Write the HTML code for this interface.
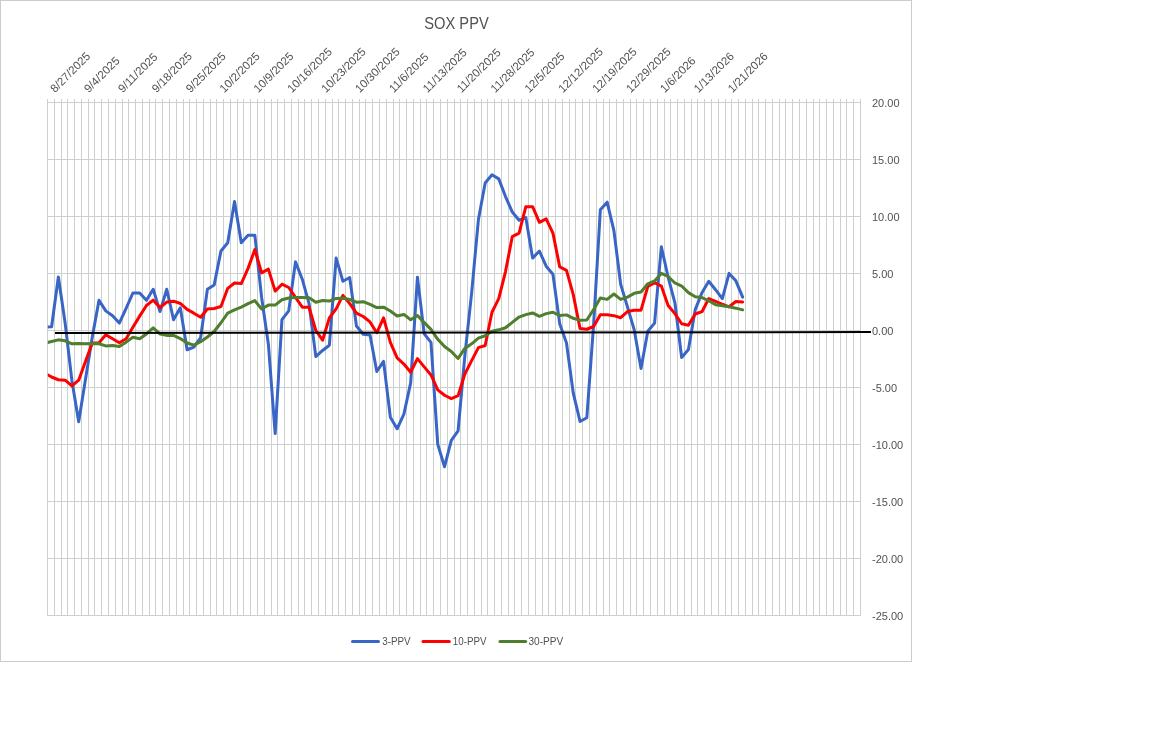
<!DOCTYPE html><html><head><meta charset="utf-8"><title>SOX PPV</title><style>
html,body{margin:0;padding:0;background:#fff;width:1152px;height:737px;overflow:hidden}
svg{display:block;will-change:transform}
text{font-family:"Liberation Sans",Arial,sans-serif;fill:#515151}
</style></head><body>
<svg width="1152" height="737" viewBox="0 0 1152 737">
<rect x="0" y="0" width="1152" height="737" fill="#fff"/>
<rect x="0.5" y="0.5" width="911" height="661" fill="none" stroke="#C8CEC8" stroke-width="1"/>
<text x="456.5" y="28.8" font-size="17" text-anchor="middle" textLength="64.5" lengthAdjust="spacingAndGlyphs">SOX PPV</text>
<path d="M47.5 99V615.5M54.5 99V615.5M61.5 99V615.5M67.5 99V615.5M74.5 99V615.5M81.5 99V615.5M88.5 99V615.5M94.5 99V615.5M101.5 99V615.5M108.5 99V615.5M115.5 99V615.5M122.5 99V615.5M128.5 99V615.5M135.5 99V615.5M142.5 99V615.5M149.5 99V615.5M155.5 99V615.5M162.5 99V615.5M169.5 99V615.5M176.5 99V615.5M183.5 99V615.5M189.5 99V615.5M196.5 99V615.5M203.5 99V615.5M210.5 99V615.5M216.5 99V615.5M223.5 99V615.5M230.5 99V615.5M237.5 99V615.5M243.5 99V615.5M250.5 99V615.5M257.5 99V615.5M264.5 99V615.5M271.5 99V615.5M277.5 99V615.5M284.5 99V615.5M291.5 99V615.5M298.5 99V615.5M304.5 99V615.5M311.5 99V615.5M318.5 99V615.5M325.5 99V615.5M332.5 99V615.5M338.5 99V615.5M345.5 99V615.5M352.5 99V615.5M359.5 99V615.5M365.5 99V615.5M372.5 99V615.5M379.5 99V615.5M386.5 99V615.5M393.5 99V615.5M399.5 99V615.5M406.5 99V615.5M413.5 99V615.5M420.5 99V615.5M426.5 99V615.5M433.5 99V615.5M440.5 99V615.5M447.5 99V615.5M454.5 99V615.5M460.5 99V615.5M467.5 99V615.5M474.5 99V615.5M481.5 99V615.5M487.5 99V615.5M494.5 99V615.5M501.5 99V615.5M508.5 99V615.5M514.5 99V615.5M521.5 99V615.5M528.5 99V615.5M535.5 99V615.5M542.5 99V615.5M548.5 99V615.5M555.5 99V615.5M562.5 99V615.5M569.5 99V615.5M575.5 99V615.5M582.5 99V615.5M589.5 99V615.5M596.5 99V615.5M603.5 99V615.5M609.5 99V615.5M616.5 99V615.5M623.5 99V615.5M630.5 99V615.5M636.5 99V615.5M643.5 99V615.5M650.5 99V615.5M657.5 99V615.5M664.5 99V615.5M670.5 99V615.5M677.5 99V615.5M684.5 99V615.5M691.5 99V615.5M697.5 99V615.5M704.5 99V615.5M711.5 99V615.5M718.5 99V615.5M725.5 99V615.5M731.5 99V615.5M738.5 99V615.5M745.5 99V615.5M752.5 99V615.5M758.5 99V615.5M765.5 99V615.5M772.5 99V615.5M779.5 99V615.5M785.5 99V615.5M792.5 99V615.5M799.5 99V615.5M806.5 99V615.5M813.5 99V615.5M819.5 99V615.5M826.5 99V615.5M833.5 99V615.5M840.5 99V615.5M846.5 99V615.5M853.5 99V615.5M860.5 99V615.5M47.5 102.5H860.5M47.5 159.5H860.5M47.5 216.5H860.5M47.5 273.5H860.5M47.5 330.5H860.5M47.5 387.5H860.5M47.5 444.5H860.5M47.5 501.5H860.5M47.5 558.5H860.5M47.5 615.5H860.5" stroke="#CDD1CD" stroke-width="1" fill="none"/>
<text x="872" y="106.5" font-size="11">20.00</text>
<text x="872" y="163.5" font-size="11">15.00</text>
<text x="872" y="220.5" font-size="11">10.00</text>
<text x="872" y="277.5" font-size="11">5.00</text>
<text x="872" y="334.5" font-size="11">0.00</text>
<text x="872" y="391.5" font-size="11">-5.00</text>
<text x="872" y="448.5" font-size="11">-10.00</text>
<text x="872" y="505.5" font-size="11">-15.00</text>
<text x="872" y="562.5" font-size="11">-20.00</text>
<text x="872" y="619.5" font-size="11">-25.00</text>
<text transform="translate(54.89 93.20) rotate(-45)" font-size="11.5">8/27/2025</text>
<text transform="translate(88.76 93.20) rotate(-45)" font-size="11.5">9/4/2025</text>
<text transform="translate(122.64 93.20) rotate(-45)" font-size="11.5">9/11/2025</text>
<text transform="translate(156.51 93.20) rotate(-45)" font-size="11.5">9/18/2025</text>
<text transform="translate(190.39 93.20) rotate(-45)" font-size="11.5">9/25/2025</text>
<text transform="translate(224.26 93.20) rotate(-45)" font-size="11.5">10/2/2025</text>
<text transform="translate(258.14 93.20) rotate(-45)" font-size="11.5">10/9/2025</text>
<text transform="translate(292.01 93.20) rotate(-45)" font-size="11.5">10/16/2025</text>
<text transform="translate(325.89 93.20) rotate(-45)" font-size="11.5">10/23/2025</text>
<text transform="translate(359.76 93.20) rotate(-45)" font-size="11.5">10/30/2025</text>
<text transform="translate(393.64 93.20) rotate(-45)" font-size="11.5">11/6/2025</text>
<text transform="translate(427.51 93.20) rotate(-45)" font-size="11.5">11/13/2025</text>
<text transform="translate(461.39 93.20) rotate(-45)" font-size="11.5">11/20/2025</text>
<text transform="translate(495.26 93.20) rotate(-45)" font-size="11.5">11/28/2025</text>
<text transform="translate(529.14 93.20) rotate(-45)" font-size="11.5">12/5/2025</text>
<text transform="translate(563.01 93.20) rotate(-45)" font-size="11.5">12/12/2025</text>
<text transform="translate(596.89 93.20) rotate(-45)" font-size="11.5">12/19/2025</text>
<text transform="translate(630.76 93.20) rotate(-45)" font-size="11.5">12/29/2025</text>
<text transform="translate(664.64 93.20) rotate(-45)" font-size="11.5">1/6/2026</text>
<text transform="translate(698.51 93.20) rotate(-45)" font-size="11.5">1/13/2026</text>
<text transform="translate(732.39 93.20) rotate(-45)" font-size="11.5">1/21/2026</text>
<defs><clipPath id="pc"><rect x="47.8" y="90" width="820" height="530"/></clipPath></defs>
<g clip-path="url(#pc)">
<polyline points="44.81,327.08 51.59,326.74 58.36,277.03 65.14,322.98 71.91,380.66 78.69,421.70 85.46,379.52 92.24,337.34 99.01,300.18 105.79,310.89 112.56,315.68 119.34,323.09 126.11,308.27 132.89,292.99 139.66,292.99 146.44,300.29 153.21,289.23 159.99,311.58 166.76,289.23 173.54,319.78 180.31,307.70 187.09,349.77 193.86,347.14 200.64,337.57 207.41,289.23 214.19,284.90 220.96,250.93 227.74,242.72 234.51,201.45 241.29,242.72 248.06,235.31 254.84,235.31 261.61,297.44 268.39,344.18 275.16,433.56 281.94,319.67 288.71,310.89 295.49,261.87 302.26,279.20 309.04,303.71 315.81,356.61 322.59,350.45 329.36,345.21 336.14,258.11 342.91,281.25 349.69,277.49 356.46,325.94 363.24,334.26 370.01,334.95 376.79,371.54 383.56,361.39 390.34,417.14 397.11,428.77 403.89,414.06 410.66,382.94 417.44,277.15 424.21,333.92 430.99,342.36 437.76,444.39 444.54,466.73 451.31,440.28 458.09,430.82 464.86,355.58 471.64,292.88 478.41,219.58 485.19,182.98 491.96,174.78 498.74,178.88 505.51,196.55 512.29,212.05 519.06,220.26 525.84,217.64 532.61,258.11 539.39,251.04 546.16,266.20 552.94,274.30 559.71,323.66 566.49,342.93 573.26,393.09 580.04,421.47 586.81,417.71 593.59,324.80 600.36,209.66 607.14,202.14 613.91,230.64 620.69,284.33 627.46,306.90 634.24,329.93 641.01,368.46 647.79,331.30 654.56,323.09 661.34,246.82 668.11,277.03 674.89,302.80 681.66,357.52 688.44,349.54 695.21,309.64 701.99,292.65 708.76,281.25 715.54,289.69 722.31,298.58 729.09,273.39 735.86,280.80 742.64,297.10" fill="none" stroke="#3865C6" stroke-width="3" stroke-linejoin="round" stroke-linecap="round"/>
<polyline points="44.81,373.14 51.59,377.01 58.36,379.75 65.14,380.20 71.91,385.90 78.69,380.20 85.46,361.51 92.24,343.04 99.01,342.81 105.79,334.72 112.56,338.82 119.34,342.81 126.11,338.82 132.89,327.19 139.66,316.14 146.44,305.53 153.21,300.18 159.99,307.59 166.76,302.11 173.54,301.20 180.31,303.48 187.09,309.41 193.86,313.17 200.64,317.28 207.41,309.07 214.19,308.50 220.96,306.45 227.74,288.32 234.51,282.96 241.29,283.53 248.06,268.37 254.84,249.56 261.61,272.93 268.39,269.17 275.16,291.17 281.94,284.22 288.71,287.52 295.49,297.44 302.26,307.13 309.04,307.13 315.81,330.50 322.59,340.19 329.36,317.85 336.14,308.95 342.91,295.39 349.69,303.60 356.46,313.17 363.24,316.48 370.01,321.95 376.79,332.78 383.56,317.85 390.34,342.36 397.11,357.97 403.89,364.02 410.66,372.22 417.44,358.66 424.21,366.87 430.99,374.96 437.76,389.89 444.54,395.25 451.31,398.56 458.09,395.71 464.86,374.05 471.64,360.60 478.41,347.60 485.19,345.55 491.96,312.26 498.74,298.58 505.51,271.56 512.29,236.56 519.06,233.14 525.84,206.70 532.61,206.70 539.39,222.31 546.16,218.89 552.94,233.14 559.71,266.89 566.49,270.31 573.26,294.59 580.04,328.45 586.81,329.25 593.59,326.51 600.36,314.77 607.14,314.77 613.91,315.68 620.69,317.73 627.46,311.58 634.24,310.21 641.01,310.21 647.79,286.50 654.56,282.62 661.34,286.04 668.11,305.53 674.89,313.63 681.66,323.77 688.44,325.26 695.21,313.97 701.99,311.69 708.76,298.58 715.54,301.43 722.31,304.28 729.09,306.79 735.86,301.54 742.64,302.00" fill="none" stroke="#FF0000" stroke-width="3" stroke-linejoin="round" stroke-linecap="round"/>
<polyline points="44.81,343.15 51.59,341.44 58.36,339.85 65.14,340.76 71.91,343.84 78.69,343.61 85.46,343.84 92.24,343.61 99.01,343.72 105.79,345.89 112.56,345.55 119.34,346.57 126.11,342.13 132.89,337.34 139.66,338.82 146.44,333.92 153.21,327.88 159.99,333.92 166.76,335.40 173.54,335.40 180.31,338.59 187.09,343.04 193.86,345.09 200.64,341.67 207.41,337.00 214.19,331.53 220.96,322.75 227.74,313.17 234.51,309.87 241.29,307.13 248.06,303.71 254.84,300.63 261.61,308.95 268.39,305.08 275.16,305.08 281.94,299.72 288.71,298.01 295.49,297.55 302.26,297.55 309.04,297.67 315.81,302.23 322.59,300.52 329.36,301.09 336.14,298.47 342.91,298.24 349.69,299.49 356.46,302.23 363.24,301.66 370.01,304.28 376.79,307.59 383.56,307.13 390.34,311.01 397.11,316.02 403.89,314.43 410.66,319.78 417.44,315.45 424.21,322.63 430.99,329.36 437.76,339.28 444.54,346.46 451.31,351.48 458.09,358.43 464.86,348.40 471.64,343.84 478.41,338.14 485.19,335.74 491.96,331.18 498.74,329.82 505.51,327.76 512.29,322.41 519.06,317.05 525.84,314.65 532.61,312.94 539.39,316.36 546.16,313.63 552.94,312.26 559.71,315.57 566.49,314.88 573.26,318.30 580.04,320.35 586.81,320.01 593.59,309.64 600.36,298.01 607.14,299.38 613.91,294.02 620.69,299.38 627.46,297.10 634.24,293.34 641.01,291.97 647.79,283.76 654.56,280.91 661.34,273.27 668.11,276.46 674.89,282.96 681.66,286.04 688.44,292.65 695.21,296.76 701.99,297.55 708.76,300.75 715.54,304.74 722.31,305.76 729.09,306.79 735.86,308.16 742.64,309.87" fill="none" stroke="#4E7E2E" stroke-width="3" stroke-linejoin="round" stroke-linecap="round"/>
</g>
<line x1="55" y1="333" x2="871" y2="332" stroke="#000" stroke-width="2"/>
<line x1="352.5" y1="641.5" x2="378.5" y2="641.5" stroke="#3865C6" stroke-width="3" stroke-linecap="round"/>
<text x="382.2" y="645.3" font-size="11" textLength="28.4" lengthAdjust="spacingAndGlyphs">3-PPV</text>
<line x1="423" y1="641.5" x2="449.3" y2="641.5" stroke="#FF0000" stroke-width="3" stroke-linecap="round"/>
<text x="452.8" y="645.3" font-size="11" textLength="33.7" lengthAdjust="spacingAndGlyphs">10-PPV</text>
<line x1="500" y1="641.5" x2="525.7" y2="641.5" stroke="#4E7E2E" stroke-width="3" stroke-linecap="round"/>
<text x="528.5" y="645.3" font-size="11" textLength="34.8" lengthAdjust="spacingAndGlyphs">30-PPV</text>
</svg></body></html>
